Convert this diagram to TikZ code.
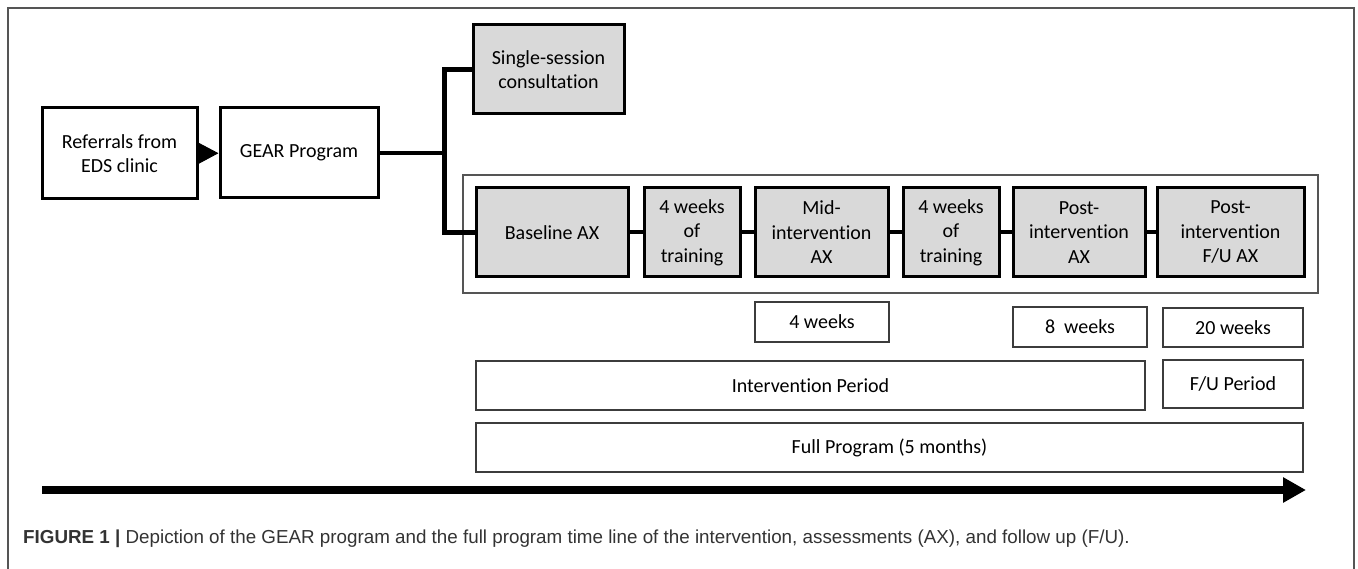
\documentclass[tikz,border=0pt]{standalone}
\usepackage{fontspec}
\setmainfont{Carlito}[Ligatures=NoCommon]
\newfontfamily\capfont{Liberation Sans}
\usetikzlibrary{arrows.meta}
\definecolor{boxgray}{HTML}{D9D9D9}
\definecolor{rimgray}{HTML}{3C3C3C}
\definecolor{framegray}{HTML}{555555}
\definecolor{capgray}{HTML}{333333}

\begin{document}
\begin{tikzpicture}[x=1pt,y=-1pt,
  box/.style={draw,line width=3pt,inner sep=0pt,align=center,font=\fontsize{20}{24.5}\selectfont},
  graybox/.style={box,fill=boxgray},
  spanbox/.style={draw=rimgray,line width=2.5pt,inner sep=0pt,font=\fontsize{20}{24}\selectfont},
  link/.style={line width=4pt}]
\useasboundingbox (0,0) rectangle (1358,569);
% page frame
\draw[framegray,line width=1.5pt] (8,569)--(8,8)--(1354,8)--(1354,569);

% referral and program
\node[box,minimum width=155,minimum height=91] (ref) at (119.5,153.5) {Referrals from\\EDS clinic};
\node[box,minimum width=158,minimum height=90] (gear) at (299,153) {GEAR Program};
\node[graybox,minimum width=151,minimum height=89] (single) at (548.5,69.5) {Single-session\\consultation};

% assessment row
\node[draw=framegray,line width=2pt,minimum width=855,minimum height=118] (row) at (890.5,234) {};
\node[graybox,minimum width=152,minimum height=89] (base) at (552,232.5) {Baseline AX};
\node[graybox,minimum width=96,minimum height=89] (trainA) at (692,232.5) {4 weeks\\of\\training};
\node[graybox,minimum width=133,minimum height=89] (mid) at (821.5,232.5) {Mid-\\intervention\\AX};
\node[graybox,minimum width=96,minimum height=89] (trainB) at (951,232.5) {4 weeks\\of\\training};
\node[graybox,minimum width=132,minimum height=89] (post) at (1079,232.5) {Post-\\intervention\\AX};
\node[graybox,minimum width=147,minimum height=89] (fu) at (1230.5,232.5) {Post-\\intervention\\F/U AX};

% durations
\node[spanbox,minimum width=134,minimum height=40] (wk4) at (822,322) {4 weeks};
\node[spanbox,minimum width=134,minimum height=40] (wk8) at (1080,327) {8\ \ weeks};
\node[spanbox,minimum width=140,minimum height=39] (wk20) at (1233,327.5) {20 weeks};
\node[spanbox,minimum width=669,minimum height=49] (intper) at (810.5,385.5) {Intervention Period};
\node[spanbox,minimum width=140,minimum height=48] (fuper) at (1233,384) {F/U Period};
\node[spanbox,minimum width=827,minimum height=49] (full) at (889.5,447.5) {Full Program (5 months)};

% connectors
\draw[line width=1pt,-{Triangle[length=20pt,width=21pt]}] (ref) -- (gear);
\coordinate (split) at (444.5,153);
\draw[link,line width=4.5pt] (gear) -- (split);
\draw[link,line width=4.5pt] (single.west) -| (split) |- (base.west);
\foreach \a/\b in {base/trainA,trainA/mid,mid/trainB,trainB/post,post/fu}
  \draw[link] (\a) -- (\b);

% time line
\coordinate (tstart) at (42,490);
\coordinate (tend) at (1306,490);
\draw[line width=8pt,-{Triangle[length=23pt,width=24pt]}] (tstart) -- (tend);

\node[anchor=west,inner sep=0pt,text=capgray,font=\capfont\fontsize{18.8}{22}\selectfont] (cap) at (23,539)
  {\textbf{FIGURE 1 |} Depiction of the GEAR program and the full program time line of the intervention, assessments (AX), and follow up (F/U).};
\end{tikzpicture}
\end{document}
